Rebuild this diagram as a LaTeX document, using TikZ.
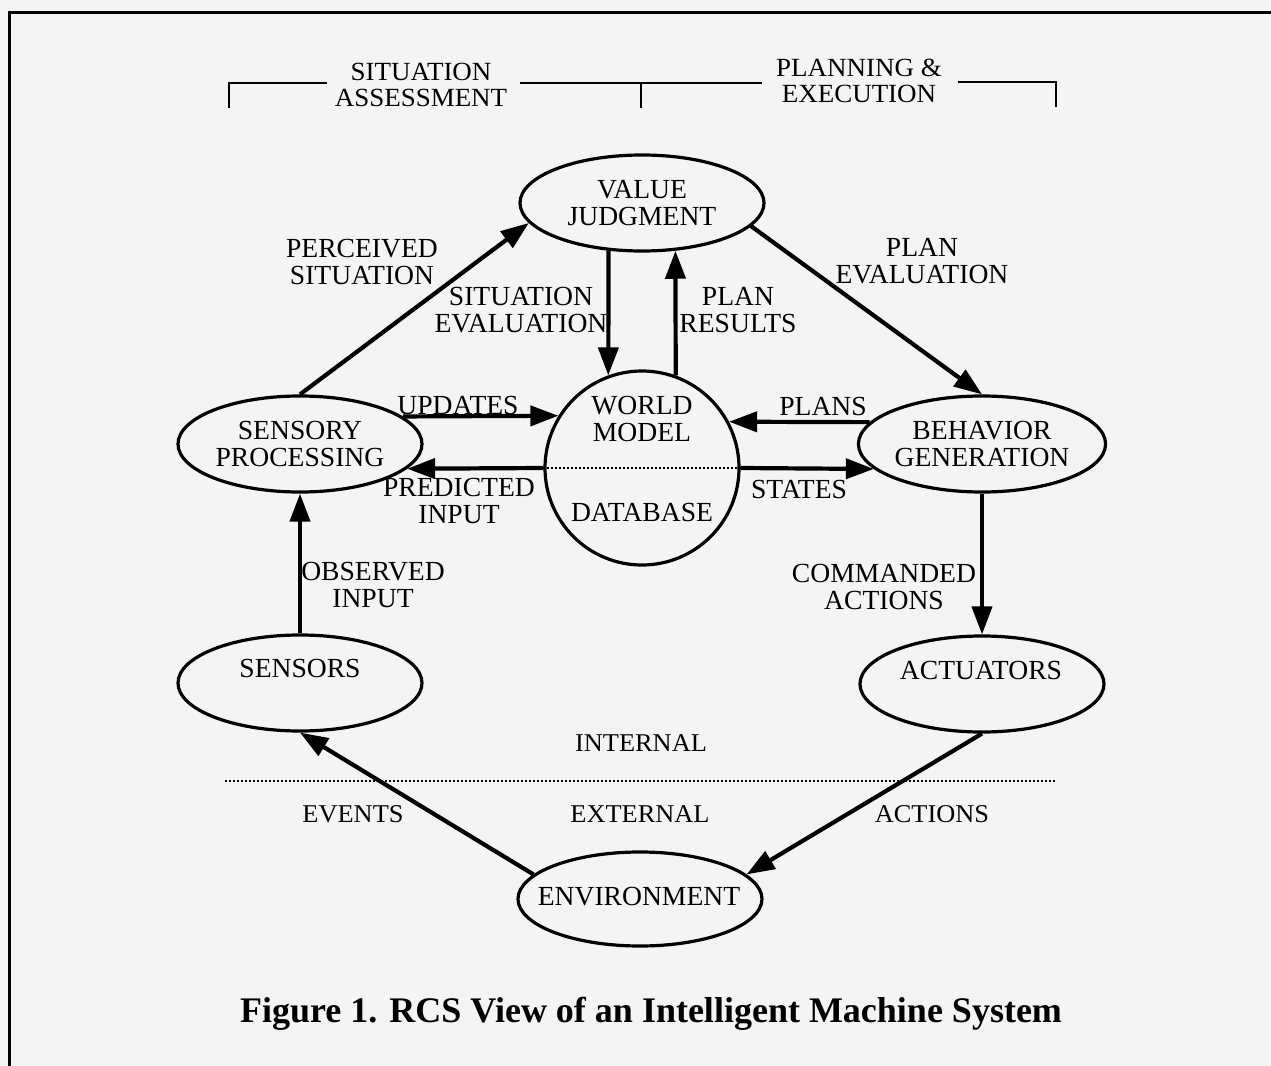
\documentclass[tikz,border=0pt]{standalone}
\usepackage{fontspec}
\setmainfont{Liberation Serif}
\newfontfamily\rcshdrfam[FakeStretch=1.03]{Liberation Serif}
\usetikzlibrary{arrows.meta,shapes.geometric}
\definecolor{paper}{RGB}{244,244,244}
\newcommand{\rcsbody}{\fontsize{13.8pt}{13.5pt}\selectfont}
\newcommand{\rcshdr}{\rcshdrfam\fontsize{13.1pt}{13pt}\selectfont}
\newcommand{\rcsmid}{\rcshdrfam\fontsize{12.8pt}{13pt}\selectfont}
\begin{document}
\begin{tikzpicture}[x=0.5pt,y=-0.5pt,
  blob/.style={ellipse, draw, line width=1.6pt, minimum width=122pt, minimum height=48pt, inner sep=0pt, align=center, font=\rcsbody},
  lbl/.style={inner sep=0pt, align=center, font=\rcsbody},
  hdr/.style={inner sep=0pt, align=center, font=\rcshdr},
  mid/.style={inner sep=0pt, align=center, font=\rcsmid},
  flow/.style={line width=2.1pt, -{Triangle[length=14pt,width=10pt]}},
  rule/.style={line width=1.4pt},
  dotline/.style={line width=1pt, dash pattern=on 1pt off 1pt}]
\useasboundingbox (0,0) rectangle (1271,1066);
\fill[paper] (0,0) rectangle (1271,1066);
% frame
\draw[line width=1.5pt] (9,1066) -- (9,12) -- (1271,12);
% header
\node[hdr] (sa) at (421,85) {SITUATION\\ASSESSMENT};
\node[hdr] (pe) at (859,81) {PLANNING \&\\EXECUTION};
\draw[rule] (229,108) -- (229,83) -- (327,83);
\draw[rule] (520,83) -- (762,83);
\draw[rule] (641,83) -- (641,108);
\draw[rule] (958,82) -- (1056,82) -- (1056,107);
% nodes
\node[blob] (vj) at (642,203) {VALUE\\JUDGMENT};
\node[blob] (sp) at (300,444) {SENSORY\\PROCESSING};
\node[blob] (bg) at (982,444) {BEHAVIOR\\GENERATION};
\node[blob] (sen) at (300,683) {};
\node[lbl] (sentxt) at (300,668) {SENSORS};
\node[blob] (act) at (982,684) {};
\node[lbl] (acttxt) at (981,670) {ACTUATORS};
\node[blob, minimum height=47pt] (env) at (640,899) {};
\node[lbl] (envtxt) at (639,897) {ENVIRONMENT};
\node[circle, draw, line width=1.6pt, minimum size=97pt, inner sep=0pt] (wm) at (642,468) {};
\node[lbl] (wmtxt) at (642,419) {WORLD\\MODEL};
\node[lbl] (dbtxt) at (642,512) {DATABASE};
\draw[dotline] (wm.180) -- (wm.0);
% connectors
\draw[flow] (sp.90) -- (vj.190);
\draw[flow] (vj.-12) -- (bg.90);
\draw[flow] (vj.-125) -- (wm.110);
\draw[flow] (wm.70) -- (vj.-55);
\draw[flow] (sp.15) -- (wm.148);
\draw[flow] (wm.180) -- (sp.-13);
\draw[flow] (bg.169) -- (wm.28);
\draw[flow] (wm.0) -- (bg.-167);
\draw[flow] (sen.90) -- (sp.-90);
\draw[flow] (bg.-90) -- (act.90);
\draw[flow] (act.-90) -- (env.13);
\draw[flow] (env.167) -- (sen.-90);
% labels
\node[lbl] (lperc) at (362,262) {PERCEIVED\\SITUATION};
\node[lbl] (lsitev) at (521,310) {SITUATION\\EVALUATION};
\node[lbl] (lplres) at (738,310) {PLAN\\RESULTS};
\node[lbl] (lplev) at (922,261) {PLAN\\EVALUATION};
\node[lbl] (lupd) at (458,405) {UPDATES};
\node[lbl] (lplans) at (823,406) {PLANS};
\node[lbl] (lpred) at (459,501) {PREDICTED\\INPUT};
\node[lbl] (lstates) at (799,489) {STATES};
\node[lbl] (lobs) at (373,585) {OBSERVED\\INPUT};
\node[lbl] (lcmd) at (884,587) {COMMANDED\\ACTIONS};
% internal / external
\draw[dotline] (225,781) -- (1055,781);
\node[mid] (lint) at (641,743) {INTERNAL};
\node[mid] (lext) at (640,814) {EXTERNAL};
\node[mid] (levt) at (353,814) {EVENTS};
\node[mid] (lact) at (932,814) {ACTIONS};
% caption
\node[inner sep=0pt, font=\fontsize{18pt}{20pt}\selectfont\bfseries] (cap) at (651,1014) {Figure 1. RCS View of an Intelligent Machine System};
\end{tikzpicture}
\end{document}
